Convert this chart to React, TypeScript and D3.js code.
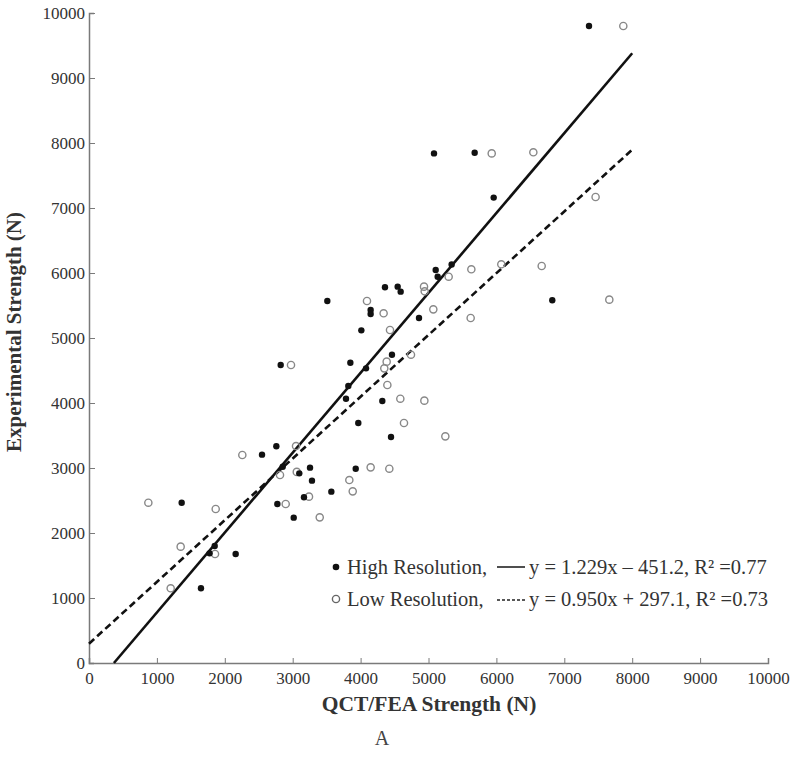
import React from 'react';
import * as d3 from 'd3';

// High resolution QCT/FEA vs experimental strength (N)
const highX = [7364, 5081, 5680, 5960, 6823, 5341, 5106, 5135, 4359, 4546, 4590, 3510, 4148, 4148, 4860, 4011, 2823, 3849, 4462, 4080, 3819, 3785, 4320, 3966, 4448, 2548, 2759, 2853, 3097, 3255, 3284, 3928, 3569, 3166, 2774, 3015, 1365, 1776, 1851, 2160, 1649];
const highY = [9800, 7840, 7850, 7160, 5580, 6130, 6046, 5943, 5780, 5790, 5713, 5569, 5431, 5369, 5308, 5118, 4585, 4620, 4743, 4533, 4262, 4066, 4031, 3692, 3477, 3205, 3334, 3020, 2918, 3005, 2805, 2989, 2636, 2549, 2446, 2236, 2466, 1687, 1800, 1677, 1149];

// Low resolution
const lowX = [7869, 5931, 6544, 7461, 5631, 6072, 6667, 7663, 5621, 5297, 4934, 4944, 4094, 5071, 4339, 4433, 2975, 4742, 4384, 4349, 4394, 4585, 4939, 4639, 5248, 3049, 2813, 4148, 4423, 3834, 3884, 3240, 2897, 3398, 2258, 874, 1866, 1350, 1856, 1203, 3060];
const lowY = [9800, 7840, 7857, 7169, 6057, 6134, 6108, 5590, 5308, 5943, 5790, 5718, 5569, 5441, 5380, 5123, 4585, 4743, 4636, 4533, 4277, 4066, 4036, 3692, 3487, 3338, 2892, 3010, 2989, 2815, 2641, 2559, 2446, 2241, 3200, 2466, 2369, 1790, 1677, 1149, 2940];

const ticks = [0, 1000, 2000, 3000, 4000, 5000, 6000, 7000, 8000, 9000, 10000];

// regression fits
const highFit = { slope: 1.229, intercept: -451.2 };
const lowFit = { slope: 0.950, intercept: 297.1 };

const App: React.FC = () => {
  const svgRef = React.useRef<SVGSVGElement>(null);

  React.useEffect(() => {
    if (!svgRef.current) return;
    const svg = d3.select(svgRef.current);
    svg.selectAll('*').remove();

    const x = d3.scaleLinear().domain([0, 10000]).range([89, 768]);
    const y = d3.scaleLinear().domain([0, 10000]).range([663, 13]);
    const font = '"Liberation Serif", "Times New Roman", serif';
    const axisColor = '#7a7a7a';

    // axes
    const xAxis = svg.append('g')
      .attr('transform', `translate(0,${y(0)})`)
      .call(d3.axisBottom(x).tickValues(ticks).tickSize(-5).tickPadding(9).tickFormat(d3.format('d')));
    const yAxis = svg.append('g')
      .attr('transform', `translate(${x(0)},0)`)
      .call(d3.axisLeft(y).tickValues(ticks).tickSize(-5).tickPadding(4).tickFormat(d3.format('d')));

    [xAxis, yAxis].forEach(a => {
      a.select('.domain').attr('stroke', axisColor).attr('stroke-width', 1.5);
      a.selectAll('.tick line').attr('stroke', axisColor).attr('stroke-width', 1);
      a.selectAll('.tick text')
        .style('font-family', font)
        .style('font-size', '17px')
        .attr('fill', '#333');
    });
    yAxis.selectAll('.tick line').attr('x2', 6);

    // regression lines
    const fitLine = (fit: { slope: number; intercept: number }, x0: number) =>
      [[x0, fit.slope * x0 + fit.intercept], [8000, fit.slope * 8000 + fit.intercept]];
    const line = d3.line<number[]>().x(d => x(d[0])).y(d => y(d[1]));

    svg.append('path')
      .attr('d', line(fitLine(highFit, -highFit.intercept / highFit.slope)))
      .attr('stroke', '#111').attr('stroke-width', 2.6).attr('fill', 'none');
    svg.append('path')
      .attr('d', line(fitLine(lowFit, 0)))
      .attr('stroke', '#111').attr('stroke-width', 2.6).attr('fill', 'none')
      .attr('stroke-dasharray', '7,4');

    // points
    svg.append('g').selectAll('circle')
      .data(lowX.map((v, i) => [v, lowY[i]]))
      .join('circle')
      .attr('cx', d => x(d[0])).attr('cy', d => y(d[1])).attr('r', 3.6)
      .attr('fill', 'none').attr('stroke', '#888').attr('stroke-width', 1.4);
    svg.append('g').selectAll('circle')
      .data(highX.map((v, i) => [v, highY[i]]))
      .join('circle')
      .attr('cx', d => x(d[0])).attr('cy', d => y(d[1])).attr('r', 3.2)
      .attr('fill', '#111');

    // legend
    const lg = svg.append('g').style('font-family', font).style('font-size', '20.5px').attr('fill', '#333');
    lg.append('circle').attr('cx', 336).attr('cy', 567).attr('r', 3.3).attr('fill', '#111');
    lg.append('text').attr('x', 347).attr('y', 574).text('High Resolution,');
    lg.append('line').attr('x1', 497).attr('x2', 525).attr('y1', 567).attr('y2', 567)
      .attr('stroke', '#222').attr('stroke-width', 1.6);
    lg.append('text').attr('x', 529).attr('y', 574).text('y = 1.229x – 451.2, R² =0.77');

    lg.append('circle').attr('cx', 336).attr('cy', 599).attr('r', 3.6)
      .attr('fill', 'none').attr('stroke', '#666').attr('stroke-width', 1.4);
    lg.append('text').attr('x', 347).attr('y', 606).text('Low Resolution,');
    lg.append('line').attr('x1', 497).attr('x2', 525).attr('y1', 600).attr('y2', 600)
      .attr('stroke', '#222').attr('stroke-width', 1.6).attr('stroke-dasharray', '3,2');
    lg.append('text').attr('x', 529).attr('y', 606).text('y = 0.950x + 297.1, R² =0.73');

    // axis titles
    svg.append('text')
      .attr('x', 429).attr('y', 711)
      .attr('text-anchor', 'middle')
      .style('font-family', font).style('font-size', '21.5px').style('font-weight', 'bold')
      .attr('fill', '#333')
      .text('QCT/FEA Strength (N)');
    svg.append('text')
      .attr('transform', `translate(21,${332}) rotate(-90)`)
      .attr('text-anchor', 'middle')
      .style('font-family', font).style('font-size', '21px').style('font-weight', 'bold')
      .attr('fill', '#333')
      .text('Experimental Strength (N)');

    svg.append('text')
      .attr('x', 382).attr('y', 745)
      .attr('text-anchor', 'middle')
      .style('font-family', font).style('font-size', '20px')
      .attr('fill', '#444')
      .text('A');
  }, []);

  return (
    <svg ref={svgRef} width={800} height={770} viewBox="0 0 800 770"
      style={{ position: 'absolute', left: 0, top: 0, background: '#fff' }} />
  );
};

export default App;
